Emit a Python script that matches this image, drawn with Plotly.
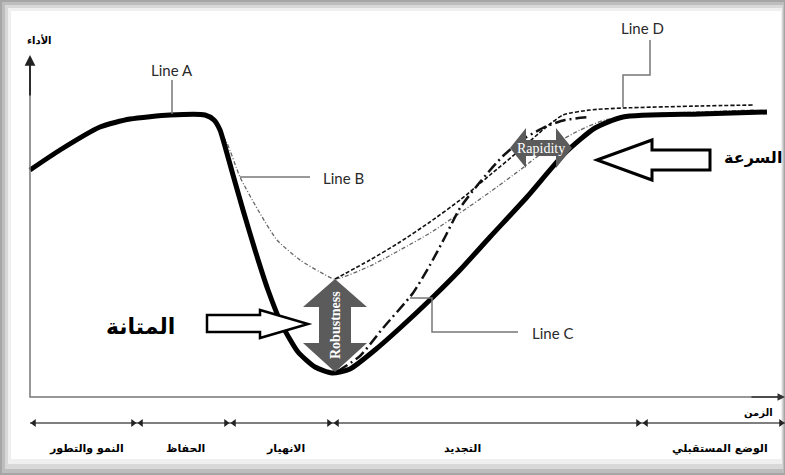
import plotly.graph_objects as go

# ---- data (time t, performance p) ----
line_a_t = [0, 30, 70, 100, 140, 175, 184, 190, 196, 203, 213, 225, 238, 252, 268, 285, 302, 320, 345, 370, 402, 430, 460, 497, 535, 565, 593, 670, 737]
line_a_p = [227, 247, 270, 278, 282, 282, 277, 267, 247, 222, 187, 147, 107, 72, 45, 30, 24, 28, 47, 69, 99, 127, 160, 200, 244, 269, 280, 283, 285]

line_b_t = [184, 186, 197, 210, 228, 247, 270, 290, 305, 340, 370, 400, 430, 460, 490, 520, 550, 575, 620, 670, 725]
line_b_p = [276, 272, 254, 220, 187, 157, 137, 125, 118, 131, 147, 164, 184, 205, 227, 250, 267, 277, 283, 285, 287]

line_c_t = [308, 330, 353, 383, 400, 415, 430, 450, 473, 495, 517, 535, 560]
line_c_p = [26, 41, 69, 104, 132, 160, 189, 215, 241, 259, 271, 277, 280]

line_d_t = [305, 340, 370, 400, 430, 460, 490, 515, 533, 560, 593, 670, 723]
line_d_p = [118, 137, 155, 175, 197, 222, 247, 269, 282, 287, 289, 291, 292]

phase_bounds = [0, 107, 200, 303, 612, 755]
phase_labels = ["النمو والتطور", "الحفاظ", "الانهيار", "التجديد", "الوضع المستقبلي"]
phase_label_t = [56, 155, 255, 432, 690]

fig = go.Figure()

fig.add_trace(go.Scatter(x=line_b_t, y=line_b_p, mode="lines",
                         line=dict(color="#666666", width=1.3, dash="4px,2px,1px,2px", shape="spline", smoothing=0.6),
                         hoverinfo="skip", showlegend=False))
fig.add_trace(go.Scatter(x=line_d_t, y=line_d_p, mode="lines",
                         line=dict(color="#111111", width=1.6, dash="4px,2px", shape="spline", smoothing=0.6),
                         hoverinfo="skip", showlegend=False))
fig.add_trace(go.Scatter(x=line_c_t, y=line_c_p, mode="lines",
                         line=dict(color="#111111", width=2.5, dash="11px,4px,2px,4px", shape="spline", smoothing=0.6),
                         hoverinfo="skip", showlegend=False))
fig.add_trace(go.Scatter(x=line_a_t, y=line_a_p, mode="lines",
                         line=dict(color="#000000", width=5, shape="spline", smoothing=0.6),
                         hoverinfo="skip", showlegend=False))

# phase timeline
TL = -26
fig.add_trace(go.Scatter(x=[phase_bounds[0], phase_bounds[-1] + 2], y=[TL, TL], mode="lines",
                         line=dict(color="#555555", width=1.5), hoverinfo="skip", showlegend=False))
fig.add_trace(go.Scatter(x=[b - 4 for b in phase_bounds[1:]], y=[TL] * (len(phase_bounds) - 1), mode="markers",
                         marker=dict(symbol="triangle-right", size=7, color="#222222"),
                         hoverinfo="skip", showlegend=False))
fig.add_trace(go.Scatter(x=[b + 4 for b in phase_bounds[:-1]], y=[TL] * (len(phase_bounds) - 1), mode="markers",
                         marker=dict(symbol="triangle-left", size=7, color="#222222"),
                         hoverinfo="skip", showlegend=False))

shapes = []
# frame (paper coords)
def prect(x0, y0, x1, y1, color):
    return dict(type="rect", xref="paper", yref="paper", x0=x0 / 785, x1=x1 / 785,
                y0=1 - y1 / 475, y1=1 - y0 / 475, fillcolor=color, line=dict(width=0), layer="below")
shapes += [prect(0, 0, 785, 475, "#a6a6a6"), prect(2, 2, 784, 473, "#bdbdbd"),
           prect(5, 5, 783, 469, "#d8d8d8"), prect(8, 8, 782, 464, "#efefef"),
           prect(11, 11, 781, 459, "#ffffff")]

gray = "#777777"
def seg(pts, color=gray, width=1.5):
    path = "M " + " L ".join(f"{x},{y}" for x, y in pts)
    return dict(type="path", xref="x", yref="y", path=path, line=dict(color=color, width=width))

# axes
shapes.append(seg([(0, 338), (0, 0), (753, 0)], "#777777", 1.5))
# connectors
shapes.append(seg([(142, 317), (142, 283)]))                      # Line A
shapes.append(seg([(210, 220), (280, 220)]))                      # Line B
shapes.append(seg([(380, 99), (402, 99), (402, 65), (488, 65)]))  # Line C
shapes.append(seg([(620, 357), (620, 322), (593, 322), (593, 290)]))  # Line D

# robustness arrow (between B minimum and A minimum)
rx = line_b_t[line_b_p.index(min(line_b_p))]
top, bot = min(line_b_p), 25
shapes.append(dict(type="path", xref="x", yref="y", fillcolor="#5b5b5b", line=dict(width=0),
                   path=f"M {rx},{top} L {rx+32},{top-28} L {rx+16},{top-28} L {rx+16},{bot+29} L {rx+32},{bot+29} "
                        f"L {rx},{bot} L {rx-32},{bot+29} L {rx-16},{bot+29} L {rx-16},{top-28} L {rx-32},{top-28} Z"))
# rapidity arrow
ry, rl, rr = 249, 480, 542
shapes.append(dict(type="path", xref="x", yref="y", fillcolor="#5b5b5b", line=dict(width=0),
                   path=f"M {rl},{ry} L {rl+16},{ry+20} L {rl+16},{ry+8} L {rr-16},{ry+8} L {rr-16},{ry+20} "
                        f"L {rr},{ry} L {rr-16},{ry-20} L {rr-16},{ry-8} L {rl+16},{ry-8} L {rl+16},{ry-20} Z"))
# hollow arrows
shapes.append(dict(type="path", xref="x", yref="y", fillcolor="white", line=dict(color="black", width=2.5),
                   path="M 177,65 L 230,65 L 230,59 L 278,73 L 230,87 L 230,82 L 177,82 Z"))
shapes.append(dict(type="path", xref="x", yref="y", fillcolor="white", line=dict(color="black", width=3),
                   path="M 567,237 L 622,257 L 622,247 L 680,247 L 680,227 L 622,227 L 622,217 Z"))

ann = []
lf = dict(family="Lato, Open Sans, sans-serif", size=15, color="#2a2a2a")
ann += [dict(x=142, y=327, text="Line A", showarrow=False, font=lf),
        dict(x=313, y=219, text="Line B", showarrow=False, font=lf),
        dict(x=522, y=64, text="Line C", showarrow=False, font=lf),
        dict(x=612, y=369, text="Line D", showarrow=False, font=lf)]
# axis arrows
ann.append(dict(x=0, y=342, ax=0, ay=300, axref="x", ayref="y", xref="x", yref="y", text="",
                showarrow=True, arrowhead=2, arrowsize=1.2, arrowwidth=1.8, arrowcolor="#222222"))
ann.append(dict(x=755, y=0, ax=720, ay=0, axref="x", ayref="y", xref="x", yref="y", text="",
                showarrow=True, arrowhead=2, arrowsize=1, arrowwidth=1.5, arrowcolor="#333333"))
af = dict(family="DejaVu Sans", color="black")
ann.append(dict(x=9, y=357, text="<b>الأداء</b>", showarrow=False, font=dict(size=10, **af)))
ann.append(dict(x=728, y=-16, text="<b>الزمن</b>", showarrow=False, font=dict(size=10, **af)))
ann.append(dict(x=110, y=71, text="<b>المتانة</b>", showarrow=False, font=dict(size=22, **af)))
ann.append(dict(x=723, y=240, text="<b>السرعة</b>", showarrow=False, font=dict(size=16, **af)))
for lab, t in zip(phase_labels, phase_label_t):
    ann.append(dict(x=t, y=-51, text=f"<b>{lab}</b>", showarrow=False, font=dict(size=11, **af)))
ann.append(dict(x=rx, y=72, text="<b>Robustness</b>", textangle=-90, showarrow=False,
                font=dict(family="Liberation Serif", size=14, color="white")))
ann.append(dict(x=(rl + rr) / 2, y=ry, text="Rapidity", showarrow=False,
                font=dict(family="Liberation Serif", size=14, color="white")))

fig.update_layout(width=785, height=475, margin=dict(l=0, r=0, t=0, b=0),
                  paper_bgcolor="#ffffff", plot_bgcolor="rgba(0,0,0,0)",
                  xaxis=dict(range=[-30, 755], visible=False, fixedrange=True),
                  yaxis=dict(range=[-78, 397], visible=False, fixedrange=True),
                  shapes=shapes, annotations=ann, showlegend=False)

fig.write_html("out.html", config={"displayModeBar": False},
               post_script="document.body.style.margin='0';document.body.style.overflow='hidden';")
